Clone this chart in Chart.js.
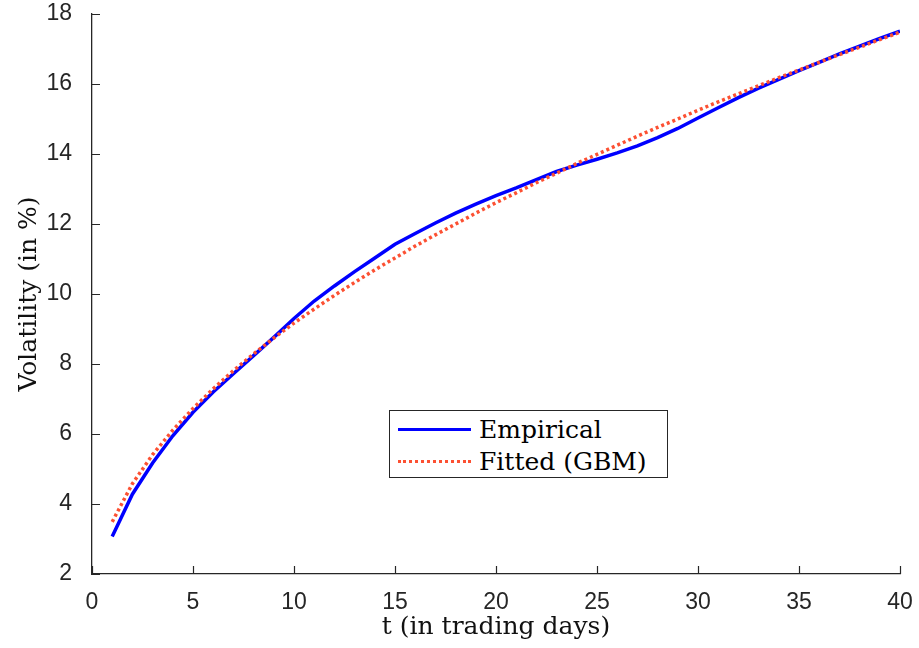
<!DOCTYPE html>
<html>
<head>
<meta charset="utf-8">
<script src="https://cdn.jsdelivr.net/npm/chart.js@4/dist/chart.umd.min.js"></script>
<style>
  body { margin: 0; background: #fff; }
  #wrap { position: relative; width: 919px; height: 648px; }
  #legend {
    position: absolute; left: 389px; top: 410px; width: 277px; height: 66px;
    border: 1px solid #262626; background: #fff;
    font-family: "DejaVu Serif", serif; font-size: 25px; color: #000;
  }
  .row { position: absolute; left: 8px; height: 30px; display: flex; align-items: center; }
  .swatch { width: 73px; margin-right: 8px; }
</style>
</head>
<body>
<div id="wrap">
  <canvas id="volChart" width="919" height="648"></canvas>
  <div id="legend">
    <div class="row" style="top:3px"><span class="swatch" style="border-top:3.5px solid #0000ff"></span>Empirical</div>
    <div class="row" style="top:35px"><span class="swatch" style="border-top:3.5px dotted #fc5032"></span>Fitted (GBM)</div>
  </div>
</div>
<script>
// Trading days
const days = [];
for (let t = 1; t <= 40; t++) days.push(t);

// Values (volatility in %)
const empirical = [
  3.07, 4.28, 5.17, 5.95, 6.62, 7.20, 7.72, 8.24, 8.76, 9.30,
  9.80, 10.23, 10.64, 11.03, 11.42, 11.73, 12.03, 12.31, 12.57, 12.81,
  13.03, 13.27, 13.50, 13.68, 13.85, 14.03, 14.23, 14.47, 14.73, 15.03,
  15.32, 15.61, 15.88, 16.13, 16.38, 16.62, 16.86, 17.08, 17.30, 17.51
];
const fitted = [
  3.49, 4.58, 5.41, 6.11, 6.73, 7.29, 7.81, 8.29, 8.74, 9.17,
  9.57, 9.96, 10.33, 10.69, 11.03, 11.37, 11.69, 12.00, 12.31, 12.61,
  12.89, 13.18, 13.45, 13.73, 13.99, 14.25, 14.51, 14.76, 15.00, 15.25,
  15.49, 15.72, 15.95, 16.18, 16.40, 16.62, 16.84, 17.05, 17.27, 17.48
];

const xTicks = [0, 5, 10, 15, 20, 25, 30, 35, 40];
const yTicks = [2, 4, 6, 8, 10, 12, 14, 16, 18];

const axisColor = "#262626";

// MATLAB-style inward tick marks
const inwardTicks = {
  id: "inwardTicks",
  afterDraw(chart) {
    const { ctx, chartArea, scales } = chart;
    ctx.save();
    ctx.strokeStyle = axisColor;
    ctx.lineWidth = 1.2;
    ctx.beginPath();
    xTicks.forEach(v => {
      const px = Math.round(scales.x.getPixelForValue(v)) + 0.5;
      ctx.moveTo(px, chartArea.bottom);
      ctx.lineTo(px, chartArea.bottom - 8);
    });
    yTicks.forEach(v => {
      const py = Math.round(scales.y.getPixelForValue(v)) + 0.5;
      ctx.moveTo(chartArea.left, py);
      ctx.lineTo(chartArea.left + 8, py);
    });
    ctx.stroke();
    ctx.restore();
  }
};

new Chart(document.getElementById("volChart"), {
  type: "line",
  data: {
    datasets: [
      {
        label: "Empirical",
        data: days.map((t, i) => ({ x: t, y: empirical[i] })),
        borderColor: "#0000ff",
        borderWidth: 3.5,
        pointRadius: 0,
        tension: 0,
        order: 1
      },
      {
        label: "Fitted (GBM)",
        data: days.map((t, i) => ({ x: t, y: fitted[i] })),
        borderColor: "#fc5032",
        borderWidth: 3.5,
        borderDash: [3, 3],
        pointRadius: 0,
        tension: 0,
        order: 0
      }
    ]
  },
  options: {
    responsive: false,
    animation: false,
    layout: { padding: { left: 0, right: 19, top: 14, bottom: 0 } },
    plugins: { legend: { display: false }, tooltip: { enabled: false } },
    scales: {
      x: {
        type: "linear",
        min: 0,
        max: 40,
        afterFit: s => { s.height = 74; s.paddingLeft = 0; s.paddingRight = 0; },
        afterBuildTicks: s => { s.ticks = xTicks.map(v => ({ value: v })); },
        grid: { display: false },
        border: { display: true, color: axisColor, width: 1.3 },
        ticks: {
          color: axisColor,
          padding: 7,
          maxRotation: 0,
          font: { family: "'Liberation Sans', Arial, sans-serif", size: 23 }
        },
        title: {
          display: true,
          text: "t (in trading days)",
          color: "#111",
          padding: { top: 0, bottom: 6 },
          font: { family: "'DejaVu Serif', serif", size: 25 }
        }
      },
      y: {
        type: "linear",
        min: 2,
        max: 18,
        afterFit: s => { s.width = 92; s.paddingTop = 0; s.paddingBottom = 0; },
        afterBuildTicks: s => { s.ticks = yTicks.map(v => ({ value: v })); },
        grid: { display: false },
        border: { display: true, color: axisColor, width: 1.3 },
        ticks: {
          color: axisColor,
          padding: 12,
          font: { family: "'Liberation Sans', Arial, sans-serif", size: 23 }
        },
        title: {
          display: true,
          text: "Volatility (in %)",
          color: "#111",
          padding: { top: 14, bottom: 0 },
          font: { family: "'DejaVu Serif', serif", size: 25 }
        }
      }
    }
  },
  plugins: [inwardTicks]
});
</script>
</body>
</html>
